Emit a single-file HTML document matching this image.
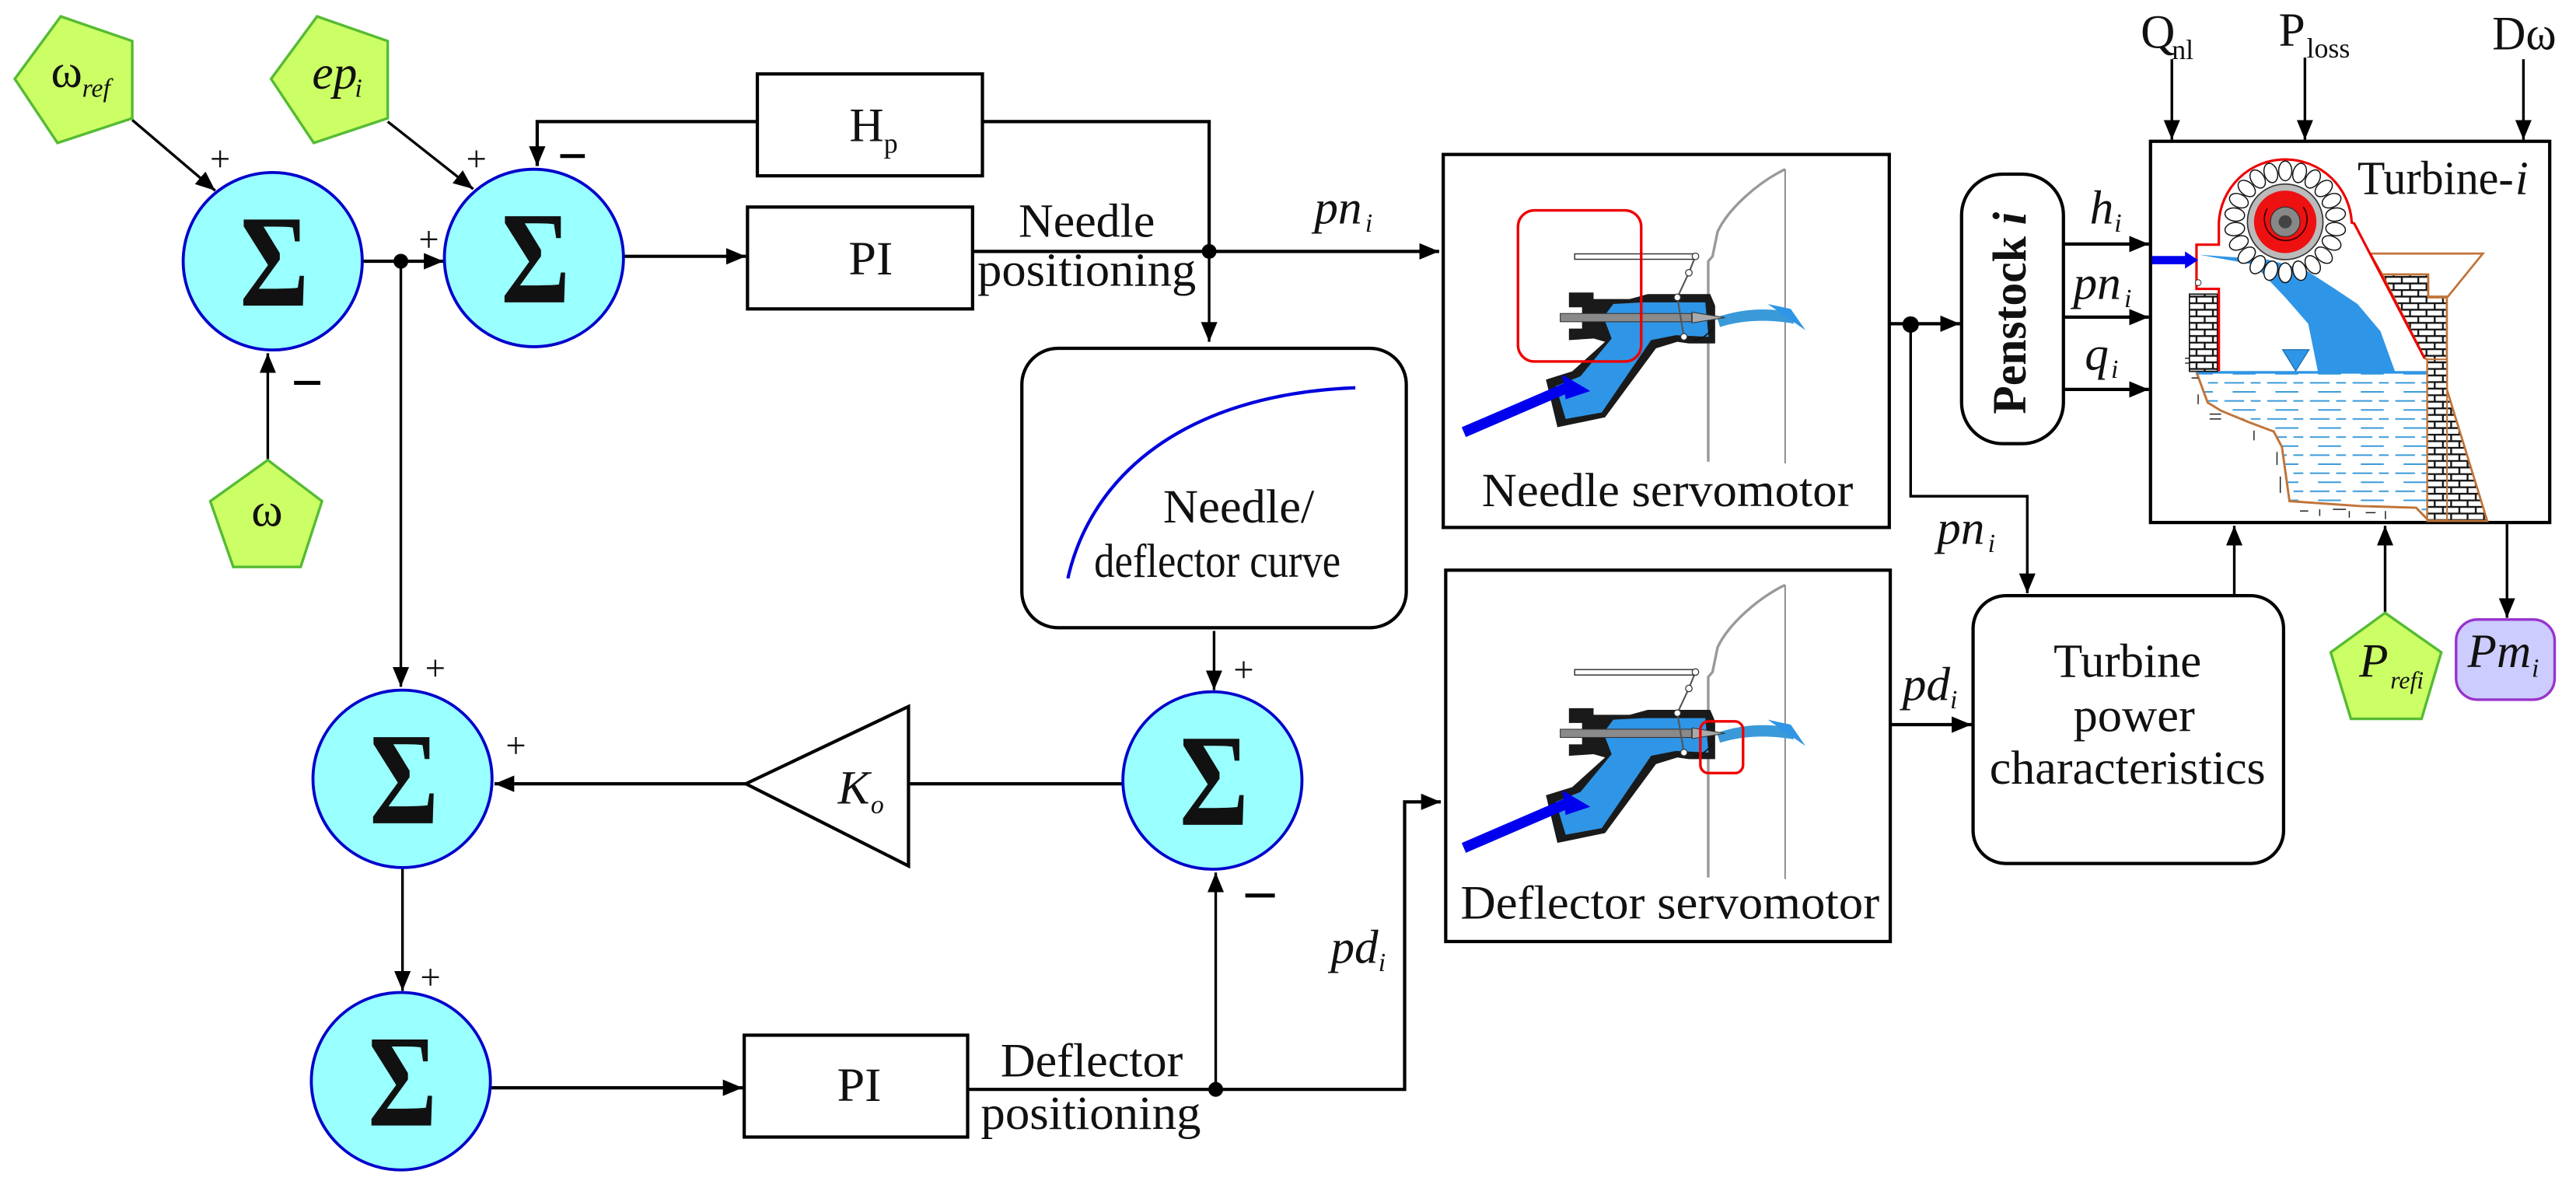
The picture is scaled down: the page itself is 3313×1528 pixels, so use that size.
<!DOCTYPE html>
<html><head><meta charset="utf-8">
<style>
html,body{margin:0;padding:0;background:#fff;}
svg{display:block;}
svg text{font-family:"Liberation Serif","DejaVu Serif","Times New Roman",serif !important;fill:#111;}
.it{font-style:italic;}
</style></head>
<body>
<svg width="3313" height="1528" viewBox="0 0 1568 723" preserveAspectRatio="none" xmlns="http://www.w3.org/2000/svg" font-family="Liberation Serif, DejaVu Serif, serif">
<defs>
<marker id="ar" markerUnits="userSpaceOnUse" markerWidth="14" markerHeight="12" refX="12" refY="5" orient="auto">
<path d="M0,0 L12,5 L0,10 Z" fill="#000"/>
</marker>
<pattern id="brick" patternUnits="userSpaceOnUse" width="10" height="8">
<rect width="10" height="8" fill="#fff"/>
<path d="M0,0.5 H10 M0,4.5 H10 M2,0.5 V4.5 M7,4.5 V8" stroke="#111" stroke-width="1.1"/>
</pattern>
<pattern id="water" patternUnits="userSpaceOnUse" width="26" height="11">
<rect width="26" height="11" fill="#fff"/>
<path d="M2,2 H14 M18,2 H24 M7,7.5 H21" stroke="#3a9ad9" stroke-width="0.9"/>
</pattern>
<g id="nozzle">
<path d="M1086.6,356 C1070,364 1052,380 1045.5,394 L1042.4,409 L1039.8,412 L1039.8,534" fill="none" stroke="#999" stroke-width="1.6"/>
<path d="M1086.6,356 V535" fill="none" stroke="#888" stroke-width="0.9"/>
<polygon points="955,431 970,431 970,435 992,435 1003,432 1041,432 1044,439 1044,462 1028,462 1021,461 1008,465 977,507 948,513 941,484 957,479 977,461 970,459 955,460 955,453 963,453 963,440 955,440" fill="#1a1a1a"/>
<polygon points="982,438 1000,437 1038,437 1040,458 1020,457 1005,460 975,504 953,508 947,488 962,482 981,459 976,446" fill="#2f95e6"/>
<path d="M1045,446 C1060,441 1075,440 1090,443 L1092,450 C1075,447 1060,448 1047,452 Z" fill="#3a9ad9"/>
<path d="M1076,438 L1099,454 L1090,441 Z" fill="#2f95e6"/>
<rect x="949.7" y="443.8" width="80" height="5" fill="#8a8a8a" stroke="#333" stroke-width="0.5"/>
<polygon points="1030,443 1050,446.3 1030,449.5" fill="#aaa" stroke="#333" stroke-width="0.5"/>
<rect x="958.5" y="407.5" width="73.5" height="3.3" fill="#fff" stroke="#333" stroke-width="0.7"/>
<path d="M1032,409 L1028,419 L1021,434 L1025,458" fill="none" stroke="#555" stroke-width="1"/>
<circle cx="1032" cy="409" r="2" fill="#fff" stroke="#333" stroke-width="0.6"/>
<circle cx="1028" cy="419" r="2" fill="#fff" stroke="#333" stroke-width="0.6"/>
<circle cx="1021" cy="434" r="2" fill="#fff" stroke="#333" stroke-width="0.6"/>
<circle cx="1025" cy="458" r="2" fill="#fff" stroke="#333" stroke-width="0.6"/>
<path d="M1031,460 C1036,460 1040,456 1043,452" fill="none" stroke="#111" stroke-width="0.8"/>
<path d="M891,516 L956,488" stroke="#0000ee" stroke-width="6.5"/>
<polygon points="951,481 968,491 953,496" fill="#0000ee"/>
</g>
</defs>

<g fill="none" stroke="#000" stroke-width="1.6">
<path d="M80.5,73 L131,116" marker-end="url(#ar)"/>
<path d="M236,74 L288,115" marker-end="url(#ar)"/>
<path d="M163,281 V215" marker-end="url(#ar)"/>
<path d="M221,159 H270" marker-end="url(#ar)" stroke-width="2"/>
<path d="M244,159 V418" marker-end="url(#ar)"/>
<path d="M380,156 H454" marker-end="url(#ar)" stroke-width="2"/>
<path d="M592,153 H876" marker-end="url(#ar)" stroke-width="2"/>
<path d="M736,153 V74 H598 M461,74 H327 V101" marker-end="url(#ar)" stroke-width="2"/>
<path d="M736,153 V208" marker-end="url(#ar)"/>
<path d="M739,384 V420" marker-end="url(#ar)"/>
<path d="M684,477 H553" stroke-width="2"/>
<path d="M454,477 H301" marker-end="url(#ar)" stroke-width="2"/>
<path d="M245,528 V603" marker-end="url(#ar)"/>
<path d="M299,662 H452" marker-end="url(#ar)" stroke-width="2"/>
<path d="M589,663 H855 V488 H877" marker-end="url(#ar)" stroke-width="2"/>
<path d="M740,663 V531" marker-end="url(#ar)"/>
<path d="M1150,197 H1193" marker-end="url(#ar)" stroke-width="2"/>
<path d="M1163,197 V302 H1234 V361" marker-end="url(#ar)"/>
<path d="M1256,148.5 H1308" marker-end="url(#ar)" stroke-width="2"/>
<path d="M1256,193 H1308" marker-end="url(#ar)" stroke-width="2"/>
<path d="M1256,237 H1308" marker-end="url(#ar)" stroke-width="2"/>
<path d="M1322,36 V85" marker-end="url(#ar)"/>
<path d="M1403,35 V85" marker-end="url(#ar)"/>
<path d="M1536,36 V85" marker-end="url(#ar)"/>
<path d="M1150,441 H1200" marker-end="url(#ar)" stroke-width="2"/>
<path d="M1360,362 V320" marker-end="url(#ar)"/>
<path d="M1451.8,373 V320" marker-end="url(#ar)"/>
<path d="M1526,319 V376" marker-end="url(#ar)"/>
</g>
<g fill="#000">
<circle cx="244" cy="159" r="4.5"/>
<circle cx="736" cy="153" r="4.5"/>
<circle cx="740" cy="663" r="4.5"/>
<circle cx="1163" cy="197.5" r="5"/>
</g>

<polygon points="37,10 80.5,25 80.5,72 35,87 9,48" fill="#ccff66" stroke="#55bb33" stroke-width="1.6"/>
<polygon points="193,10 236,25 236,72 191,87 165,48" fill="#ccff66" stroke="#55bb33" stroke-width="1.6"/>
<polygon points="163,280 196,305 183,345 142,345 128,305" fill="#ccff66" stroke="#55bb33" stroke-width="1.6"/>
<polygon points="1451.8,373 1486,397 1474,437.5 1431,437.5 1418.7,397" fill="#ccff66" stroke="#55bb33" stroke-width="1.6"/>
<rect x="1495" y="377" width="60" height="48.8" rx="13" fill="#ccccff" stroke="#9933cc" stroke-width="1.6"/>

<g fill="#99ffff" stroke="#0000cc" stroke-width="1.8">
<ellipse cx="166" cy="159" rx="54.5" ry="54"/>
<ellipse cx="325" cy="157" rx="54.5" ry="54"/>
<ellipse cx="245" cy="474" rx="54.5" ry="54"/>
<ellipse cx="244" cy="658" rx="54.5" ry="54"/>
<ellipse cx="738" cy="475" rx="54.5" ry="54"/>
</g>
<g font-weight="bold" font-size="80" text-anchor="middle">
<text x="167" y="186" textLength="42" lengthAdjust="spacingAndGlyphs">Σ</text>
<text x="326" y="184" textLength="42" lengthAdjust="spacingAndGlyphs">Σ</text>
<text x="246" y="501" textLength="42" lengthAdjust="spacingAndGlyphs">Σ</text>
<text x="245" y="685" textLength="42" lengthAdjust="spacingAndGlyphs">Σ</text>
<text x="739" y="502" textLength="42" lengthAdjust="spacingAndGlyphs">Σ</text>
</g>

<g fill="#fff" stroke="#000" stroke-width="2">
<rect x="461" y="45" width="137" height="62"/>
<rect x="455" y="126" width="137" height="62"/>
<rect x="622" y="212" width="234" height="170" rx="22"/>
<rect x="453" y="630" width="136" height="62"/>
<polygon points="553,430 553,527 454,477"/>
<rect x="878.5" y="94" width="271.5" height="227"/>
<rect x="880" y="347" width="270.6" height="226"/>
<rect x="1194" y="106" width="62" height="164" rx="25"/>
<rect x="1309" y="86" width="243" height="232"/>
<rect x="1201" y="362.5" width="189" height="163" rx="20"/>
</g>
<path d="M650,352 C664,290 720,240 825,236" fill="none" stroke="#0000dd" stroke-width="2"/>

<use href="#nozzle" transform="translate(0,-253)"/>
<use href="#nozzle"/>
<rect x="924" y="128" width="75" height="92" rx="10" fill="none" stroke="#e00" stroke-width="1.6"/>
<rect x="1035" y="439" width="26" height="31.5" rx="5" fill="none" stroke="#e00" stroke-width="1.6"/>

<g>
<polygon points="1337,226.6 1343.8,245 1352,250 1369,257 1384,262.6 1389,272 1393.6,305 1437,308 1470.7,309 1477.5,316 1477.5,226.6" fill="url(#water)"/>
<path d="M1337,226.6 L1343.8,245 L1352,250 L1369,257 L1384,262.6 L1389,272 L1393.6,305 L1437,308 L1470.7,309 L1477.5,316" fill="none" stroke="#c0743a" stroke-width="1.4"/>
<path d="M1337,226.6 H1477.5" stroke="#2f95e6" stroke-width="1.6"/>
<g stroke="#222" stroke-width="0.7">
<path d="M1330,218 H1334 M1330,221 H1334 M1334,230 H1338 M1338,240 V246 M1345,252 H1352 M1345,255 H1352 M1372,262 V268 M1386,275 V283 M1388,290 V300 M1400,311 H1405 M1412,310 V314 M1420,310 H1428 M1430,311 V315 M1440,312 H1446 M1452,311 V316"/>
</g>
<rect x="1332.7" y="179" width="17" height="47" fill="url(#brick)" stroke="#111" stroke-width="0.8"/>
<polygon points="1442.7,154.3 1511.3,154.3 1490,180.5 1478,180.5 1478,167 1450,167" fill="#fff" stroke="#c0743a" stroke-width="1.3"/>
<polygon points="1450,167 1478,167 1478,181 1489.4,181 1489.4,237 1514,317 1477.5,317 1477.5,218.7 1475.8,218" fill="url(#brick)" stroke="#c0743a" stroke-width="1.3"/>
<rect x="1477.5" y="218.7" width="12" height="98" fill="url(#brick)" stroke="#c0743a" stroke-width="1"/>
<path d="M1338.6,155 L1372,161 L1391,181 L1405,197 L1411,226.6 L1458,226.6 L1449,201.6 L1435,185 L1420,175 L1403,164 L1380,158 Z" fill="#2f95e6"/>
<polygon points="1389.4,212.8 1405.5,212.8 1397.4,225.8" fill="#2f95e6" stroke="#1a6fb0" stroke-width="0.6"/>
<path d="M1350.6,225.8 V175.8 H1337 V148.9 H1350.6 V135.5 A40.5,40.5 0 0 1 1431.5,135.5 L1433,136 L1475.8,218" fill="none" stroke="#e00" stroke-width="1.5"/>
<g fill="#fff" stroke="#111" stroke-width="0.7">
<ellipse cx="1391" cy="104" rx="4" ry="6"/>
<ellipse cx="1391" cy="104" rx="4" ry="6" transform="rotate(16.4 1391 135)"/>
<ellipse cx="1391" cy="104" rx="4" ry="6" transform="rotate(32.7 1391 135)"/>
<ellipse cx="1391" cy="104" rx="4" ry="6" transform="rotate(49.1 1391 135)"/>
<ellipse cx="1391" cy="104" rx="4" ry="6" transform="rotate(65.5 1391 135)"/>
<ellipse cx="1391" cy="104" rx="4" ry="6" transform="rotate(81.8 1391 135)"/>
<ellipse cx="1391" cy="104" rx="4" ry="6" transform="rotate(98.2 1391 135)"/>
<ellipse cx="1391" cy="104" rx="4" ry="6" transform="rotate(114.5 1391 135)"/>
<ellipse cx="1391" cy="104" rx="4" ry="6" transform="rotate(130.9 1391 135)"/>
<ellipse cx="1391" cy="104" rx="4" ry="6" transform="rotate(147.3 1391 135)"/>
<ellipse cx="1391" cy="104" rx="4" ry="6" transform="rotate(163.6 1391 135)"/>
<ellipse cx="1391" cy="104" rx="4" ry="6" transform="rotate(180 1391 135)"/>
<ellipse cx="1391" cy="104" rx="4" ry="6" transform="rotate(196.4 1391 135)"/>
<ellipse cx="1391" cy="104" rx="4" ry="6" transform="rotate(212.7 1391 135)"/>
<ellipse cx="1391" cy="104" rx="4" ry="6" transform="rotate(229.1 1391 135)"/>
<ellipse cx="1391" cy="104" rx="4" ry="6" transform="rotate(245.5 1391 135)"/>
<ellipse cx="1391" cy="104" rx="4" ry="6" transform="rotate(261.8 1391 135)"/>
<ellipse cx="1391" cy="104" rx="4" ry="6" transform="rotate(278.2 1391 135)"/>
<ellipse cx="1391" cy="104" rx="4" ry="6" transform="rotate(294.5 1391 135)"/>
<ellipse cx="1391" cy="104" rx="4" ry="6" transform="rotate(310.9 1391 135)"/>
<ellipse cx="1391" cy="104" rx="4" ry="6" transform="rotate(327.3 1391 135)"/>
<ellipse cx="1391" cy="104" rx="4" ry="6" transform="rotate(343.6 1391 135)"/>
</g>
<circle cx="1391" cy="135" r="23" fill="#bbb" stroke="#333" stroke-width="0.8"/>
<circle cx="1391" cy="135" r="19" fill="#ee1111"/>
<path d="M1402,126 A13,13 0 1 1 1380,127" fill="none" stroke="#300" stroke-width="0.8"/>
<circle cx="1391" cy="135" r="9" fill="#888" stroke="#333" stroke-width="0.6"/>
<circle cx="1391" cy="135" r="4" fill="#444"/>
<path d="M1309.8,158.3 H1331" stroke="#0000ee" stroke-width="5"/>
<polygon points="1330,153 1338,158.3 1330,163.5" fill="#0000ee"/>
<circle cx="1338" cy="172" r="1.8" fill="#fff" stroke="#333" stroke-width="0.5"/>
</g>

<g font-size="22" text-anchor="middle">
<text x="134" y="104">+</text>
<text x="290" y="104">+</text>
<text x="261" y="153">+</text>
<text x="265" y="414">+</text>
<text x="314" y="461">+</text>
<text x="262" y="602">+</text>
<text x="757" y="415">+</text>
</g>
<g stroke="#000" stroke-width="2.4">
<path d="M341,95 H356"/>
<path d="M179,233 H195"/>
<path d="M758,545 H776"/>
</g>

<g font-size="29">
<text x="517" y="86">H</text><text x="538" y="93" font-size="17">p</text>
<text x="530" y="167" text-anchor="middle" textLength="27" lengthAdjust="spacingAndGlyphs">PI</text>
<text x="523" y="670" text-anchor="middle" textLength="27" lengthAdjust="spacingAndGlyphs">PI</text>
<text x="620" y="144" textLength="83" lengthAdjust="spacingAndGlyphs">Needle</text>
<text x="595" y="174" textLength="133" lengthAdjust="spacingAndGlyphs">positioning</text>
<text x="609" y="655" textLength="111" lengthAdjust="spacingAndGlyphs">Deflector</text>
<text x="597" y="687" textLength="134" lengthAdjust="spacingAndGlyphs">positioning</text>
<text x="708" y="318" textLength="92" lengthAdjust="spacingAndGlyphs">Needle/</text>
<text x="666" y="351" textLength="150" lengthAdjust="spacingAndGlyphs">deflector curve</text>
<text x="902" y="308" textLength="226" lengthAdjust="spacingAndGlyphs">Needle servomotor</text>
<text x="889" y="559" textLength="255" lengthAdjust="spacingAndGlyphs">Deflector servomotor</text>
<text x="1250" y="412" textLength="90" lengthAdjust="spacingAndGlyphs">Turbine</text>
<text x="1262" y="445" textLength="74" lengthAdjust="spacingAndGlyphs">power</text>
<text x="1211" y="477" textLength="168" lengthAdjust="spacingAndGlyphs">characteristics</text>
<text x="1435" y="118" textLength="95" lengthAdjust="spacingAndGlyphs">Turbine-</text><text x="1531" y="118" class="it">i</text>
<text x="1303" y="29">Q</text><text x="1322" y="36" font-size="17">nl</text>
<text x="1387" y="28">P</text><text x="1404" y="35" font-size="17">loss</text>
<text x="1517" y="30" textLength="39" lengthAdjust="spacingAndGlyphs">Dω</text>
<text x="31" y="53">ω</text><text x="50" y="59" font-size="16" class="it">ref</text>
<text x="190" y="54" class="it">ep</text><text x="216" y="59" font-size="16" class="it">i</text>
<text x="153" y="320">ω</text>
<text x="510" y="489" class="it">K</text><text x="530" y="495" font-size="16" class="it">o</text>
<text x="800" y="136" class="it">pn</text><text x="831" y="141" font-size="16" class="it">i</text>
<text x="1179" y="331" class="it">pn</text><text x="1210" y="336" font-size="16" class="it">i</text>
<text x="1158" y="426" class="it">pd</text><text x="1187" y="431" font-size="16" class="it">i</text>
<text x="810" y="586" class="it">pd</text><text x="839" y="591" font-size="16" class="it">i</text>
<text x="1272" y="136" class="it">h</text><text x="1287" y="141" font-size="16" class="it">i</text>
<text x="1262" y="182" class="it">pn</text><text x="1293" y="187" font-size="16" class="it">i</text>
<text x="1269" y="225" class="it">q</text><text x="1285" y="230" font-size="16" class="it">i</text>
<text x="1436" y="412" class="it">P</text><text x="1455" y="419" font-size="15" class="it">refi</text>
<text x="1502" y="406" class="it">Pm</text><text x="1541" y="412" font-size="16" class="it">i</text>
</g>
<text transform="translate(1233,252) rotate(-90)" font-size="29" font-weight="bold" textLength="123" lengthAdjust="spacingAndGlyphs">Penstock <tspan font-style="italic">i</tspan></text>
</svg>
</body></html>
